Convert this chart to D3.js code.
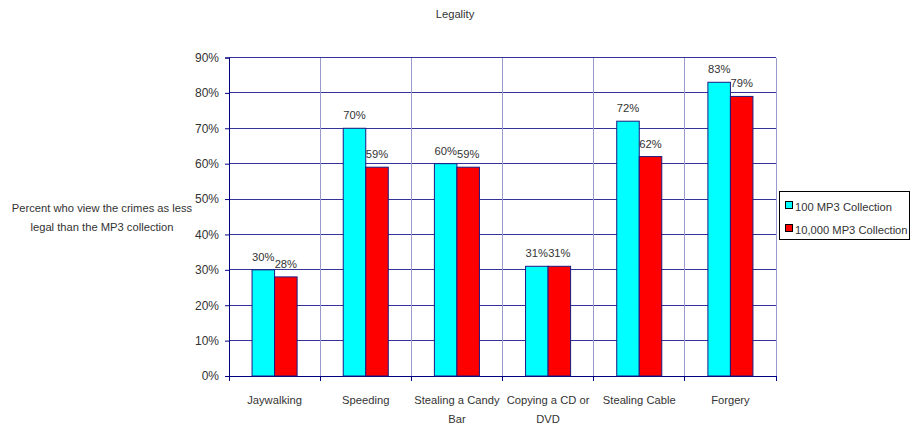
<!DOCTYPE html>
<html><head><meta charset="utf-8">
<script src="https://cdn.jsdelivr.net/npm/d3@7"></script>
<style>body{margin:0;background:#fff;} text{font-family:"Liberation Sans",Arial,sans-serif;fill:#333;}</style>
</head><body>
<svg id="c" width="911" height="428"></svg>
<script>
const categories = [["Jaywalking"],["Speeding"],["Stealing a Candy","Bar"],["Copying a CD or","DVD"],["Stealing Cable"],["Forgery"]];
const series100 = [30,70,60,31,72,83];
const series10000 = [28,59,59,31,62,79];
const seriesNames = ["100 MP3 Collection","10,000 MP3 Collection"];
const seriesColors = ["#00FFFF","#FF0000"];
const yTicks = [0,10,20,30,40,50,60,70,80,90];

const svg = d3.select("#c");
const L=229, R=776, T=57.5, B=376;
const x = d3.scaleBand().domain(d3.range(categories.length)).range([L,R]).paddingInner(0).paddingOuter(0);
const y = d3.scaleLinear().domain([0,90]).range([B,T]);
const fs = 11.2;

// title
svg.append("text").attr("x",455).attr("y",18).attr("text-anchor","middle").style("font-size",fs+"px").text("Legality");

// horizontal grid
svg.append("g").selectAll("line").data(yTicks).join("line")
  .attr("x1",L).attr("x2",R).attr("y1",d=>y(d)).attr("y2",d=>y(d))
  .attr("stroke","#333399").attr("stroke-width",1).attr("shape-rendering","crispEdges");
// vertical grid
svg.append("g").selectAll("line").data(d3.range(1,categories.length+1)).join("line")
  .attr("x1",d=>L+d*x.bandwidth()).attr("x2",d=>L+d*x.bandwidth()).attr("y1",T).attr("y2",B)
  .attr("stroke","#9a9acc").attr("stroke-width",1).attr("shape-rendering","crispEdges");

// y axis
const ya = d3.axisLeft(y).tickValues(yTicks).tickFormat(d=>d+"%").tickSize(4).tickPadding(6);
const yg = svg.append("g").attr("transform",`translate(${L},0)`).call(ya);
yg.select(".domain").attr("stroke","#000080");
yg.selectAll(".tick line").attr("stroke","#000080");
yg.selectAll("text").style("font-size","12px").attr("fill","#333").attr("font-family",null);

// x axis
svg.append("line").attr("x1",L).attr("x2",R).attr("y1",B).attr("y2",B).attr("stroke","#000080").attr("shape-rendering","crispEdges");
svg.append("g").selectAll("line").data(d3.range(0,categories.length+1)).join("line")
  .attr("x1",d=>L+d*x.bandwidth()).attr("x2",d=>L+d*x.bandwidth()).attr("y1",B).attr("y2",B+5)
  .attr("stroke","#000080").attr("shape-rendering","crispEdges");
const cl = svg.append("g").selectAll("text").data(categories).join("text")
  .attr("x",(d,i)=>x(i)+x.bandwidth()/2).attr("y",403.5).attr("text-anchor","middle").style("font-size",fs+"px");
cl.each(function(d){
  const t=d3.select(this);
  d.forEach((s,j)=>t.append("tspan").attr("x",t.attr("x")).attr("dy",j?19:0).text(s));
});

// bars
const bw = x.bandwidth()*0.247;
const data = [series100, series10000];
data.forEach((vals,si)=>{
  const g = svg.append("g");
  g.selectAll("rect").data(vals).join("rect")
    .attr("x",(d,i)=>x(i)+x.bandwidth()/2 - bw + si*bw)
    .attr("y",d=>y(d)).attr("width",bw).attr("height",d=>B-y(d))
    .attr("fill",seriesColors[si]).attr("stroke","#1a1a80").attr("stroke-width",1);
  g.selectAll("text").data(vals).join("text")
    .attr("x",(d,i)=>x(i)+x.bandwidth()/2 - bw + si*bw + bw/2)
    .attr("y",d=>y(d)-9).attr("text-anchor","middle").style("font-size",fs+"px").text(d=>d+"%");
});

// y label
const yl = svg.append("text").attr("x",102).attr("y",212).attr("text-anchor","middle").style("font-size",fs+"px");
yl.append("tspan").attr("x",102).text("Percent who view the crimes as less");
yl.append("tspan").attr("x",102).attr("dy",18.5).text("legal than the MP3 collection");

// legend
const lg = svg.append("g");
lg.append("rect").attr("x",779.5).attr("y",191.5).attr("width",130).attr("height",48).attr("fill","#fff").attr("stroke","#000");
seriesNames.forEach((n,i)=>{
  lg.append("rect").attr("x",785.5).attr("y",201.5+i*23).attr("width",7).attr("height",7).attr("fill",seriesColors[i]).attr("stroke","#000");
  lg.append("text").attr("x",795).attr("y",210.5+i*23).style("font-size",fs+"px").text(n);
});
</script>
</body></html>
